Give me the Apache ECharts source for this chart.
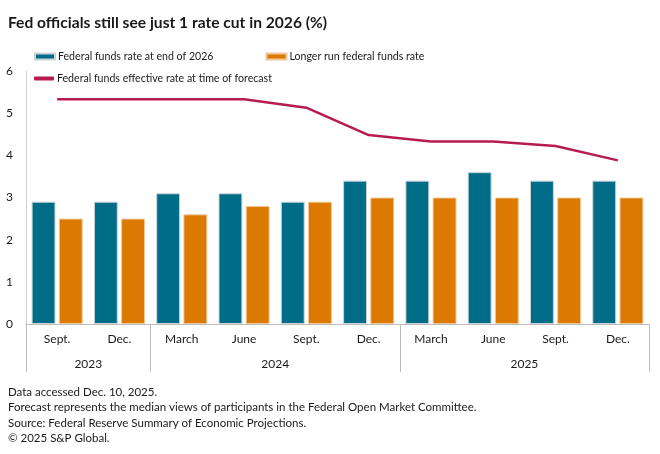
<!DOCTYPE html>
<html>
<head>
<meta charset="utf-8">
<script src="https://cdn.jsdelivr.net/npm/echarts@6/dist/echarts.min.js"></script>
<style>html,body{margin:0;padding:0;background:#fff}#c{width:660px;height:454px}</style>
</head>
<body>
<div id="c"></div>
<script>
var categories = ['Sept.', 'Dec.', 'March', 'June', 'Sept.', 'Dec.', 'March', 'June', 'Sept.', 'Dec.'];
var yearLabels = ['2023', '2024', '2025'];
var yearSpans = [2, 4, 4];
var fedEnd2026 = [2.9, 2.9, 3.1, 3.1, 2.9, 3.4, 3.4, 3.6, 3.4, 3.4];
var longerRun = [2.5, 2.5, 2.6, 2.8, 2.9, 3.0, 3.0, 3.0, 3.0, 3.0];
var effective = [5.33, 5.33, 5.33, 5.33, 5.13, 4.48, 4.33, 4.33, 4.22, 3.88];
var yTicks = [0, 1, 2, 3, 4, 5, 6];
var seriesNames = ['Federal funds rate at end of 2026', 'Longer run federal funds rate', 'Federal funds effective rate at time of forecast'];
var notes = ['Data accessed Dec. 10, 2025.',
  'Forecast represents the median views of participants in the Federal Open Market Committee.',
  'Source: Federal Reserve Summary of Economic Projections.',
  '\u00A9 2025 S&P Global.'];

var FONT = 'Lato, "Liberation Sans", Arial, sans-serif';
var bounds = [0], mids = [];
(function(){ var s = 0; for (var i = 0; i < yearSpans.length; i++) { mids.push(s + yearSpans[i] / 2); s += yearSpans[i]; bounds.push(s); } })();

var chart = echarts.init(document.getElementById('c'), null, {renderer: 'canvas'});
chart.setOption({
  animation: false,
  textStyle: {fontFamily: FONT},
  title: [{
    text: 'Fed officials still see just 1 rate cut in 2026 (%)',
    left: 3, top: 10,
    textStyle: {fontFamily: FONT, fontSize: 15.6, fontWeight: 'bold', color: '#1a1a1a'}
  }, {
    text: notes.join('\n'),
    left: 3, top: 379,
    textStyle: {fontFamily: FONT, fontSize: 11.5, fontWeight: 'normal', color: '#1a1a1a', lineHeight: 15.6}
  }],
  legend: [{
    data: [seriesNames[0], seriesNames[1]],
    left: 29, top: 46,
    itemWidth: 20, itemHeight: 6, itemGap: 52,
    icon: 'rect',
    textStyle: {fontFamily: FONT, fontSize: 10.6, color: '#1a1a1a', padding: [0, 0, 0, -2]}
  }, {
    data: [{name: seriesNames[2], icon: 'roundRect'}],
    left: 29, top: 68,
    itemWidth: 20, itemHeight: 4,
    textStyle: {fontFamily: FONT, fontSize: 10.6, color: '#1a1a1a', padding: [0, 0, 0, -2]}
  }],
  grid: {left: 26, right: 11, top: 71, bottom: 130, containLabel: false},
  xAxis: [{
    type: 'category',
    data: categories,
    axisLine: {show: true, lineStyle: {color: '#bdbdbd', width: 1}},
    axisTick: {show: false},
    axisLabel: {color: '#1a1a1a', fontSize: 12, margin: 9, fontFamily: FONT}
  }, {
    type: 'value',
    min: 0, max: bounds[bounds.length - 1],
    position: 'bottom',
    axisLine: {show: false},
    splitLine: {show: false},
    axisTick: {show: true, customValues: bounds, length: 48, lineStyle: {color: '#bdbdbd', width: 1}},
    axisLabel: {
      customValues: mids, margin: 34, color: '#1a1a1a', fontSize: 12, fontFamily: FONT,
      formatter: function (v) { var i = mids.indexOf(v); return i >= 0 ? yearLabels[i] : ''; }
    }
  }],
  yAxis: {
    type: 'value', min: yTicks[0], max: yTicks[yTicks.length - 1], interval: 1,
    axisLine: {show: true, lineStyle: {color: '#cfcfcf', width: 1}},
    axisTick: {show: false},
    splitLine: {show: false},
    axisLabel: {color: '#1a1a1a', fontSize: 12, margin: 13, fontFamily: FONT}
  },
  series: [{
    name: seriesNames[0], type: 'bar', data: fedEnd2026,
    barGap: '14%', barCategoryGap: '18%',
    itemStyle: {color: '#006d88', borderColor: '#c9d3d8', borderWidth: 1}
  }, {
    name: seriesNames[1], type: 'bar', data: longerRun,
    itemStyle: {color: '#db7900', borderColor: '#f0c89a', borderWidth: 1}
  }, {
    name: seriesNames[2], type: 'line', data: effective,
    symbol: 'none', z: 5,
    lineStyle: {color: '#b71c50', width: 2.5},
    itemStyle: {color: '#b71c50'}
  }]
});
</script>
</body>
</html>
